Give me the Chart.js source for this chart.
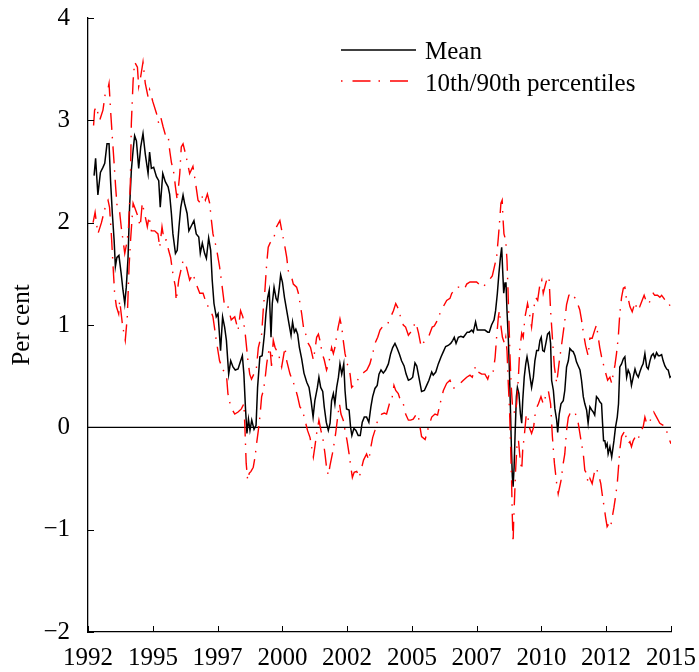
<!DOCTYPE html>
<html>
<head>
<meta charset="utf-8">
<title>Mean and 10th/90th percentiles</title>
<script src="https://cdn.jsdelivr.net/npm/chart.js@4.4.0/dist/chart.umd.min.js"></script>
<style>
  html, body { margin: 0; padding: 0; background: #fff; }
  #wrap { width: 699px; height: 672px; }
</style>
</head>
<body>
<div id="wrap"><canvas id="chart" width="699" height="672"></canvas></div>
<script>
'use strict';

// ---- Data (decimal years, per cent) ----
const meanYears = [
  1992.24, 1992.30, 1992.39, 1992.49, 1992.59, 1992.66, 1992.75, 1992.83, 1992.89, 1992.96,
  1993.03, 1993.08, 1993.14, 1993.22, 1993.31, 1993.38, 1993.45, 1993.51, 1993.58, 1993.64,
  1993.71, 1993.78, 1993.84, 1993.91, 1994.00, 1994.08, 1994.17, 1994.26, 1994.37, 1994.43,
  1994.50, 1994.59, 1994.70, 1994.79, 1994.85, 1994.95, 1995.05, 1995.16, 1995.22, 1995.29,
  1995.35, 1995.45, 1995.52, 1995.59, 1995.66, 1995.75, 1995.81, 1995.91, 1995.98, 1996.08,
  1996.18, 1996.27, 1996.37, 1996.43, 1996.51, 1996.60, 1996.67, 1996.76, 1996.84, 1996.90,
  1996.97, 1997.06, 1997.13, 1997.23, 1997.31, 1997.39, 1997.46, 1997.55, 1997.63, 1997.72,
  1997.81, 1997.92, 1998.01, 1998.09, 1998.15, 1998.21, 1998.27, 1998.33, 1998.39, 1998.46,
  1998.55, 1998.63, 1998.69, 1998.78, 1998.87, 1998.96, 1999.02, 1999.09, 1999.15, 1999.22,
  1999.27, 1999.34, 1999.42, 1999.48, 1999.55, 1999.60, 1999.67, 1999.75, 1999.84, 1999.93,
  2000.01, 2000.07, 2000.14, 2000.20, 2000.27, 2000.34, 2000.43, 2000.52, 2000.63, 2000.72,
  2000.80, 2000.88, 2000.95, 2001.05, 2001.11, 2001.18, 2001.26, 2001.32, 2001.40, 2001.48,
  2001.55, 2001.61, 2001.68, 2001.74, 2001.81, 2001.88, 2001.94, 2002.01, 2002.09, 2002.14,
  2002.20, 2002.30, 2002.36, 2002.41, 2002.49, 2002.57, 2002.66, 2002.74, 2002.82, 2002.90,
  2002.99, 2003.08, 2003.16, 2003.23, 2003.32, 2003.41, 2003.48, 2003.56, 2003.65, 2003.74,
  2003.85, 2003.94, 2004.02, 2004.11, 2004.20, 2004.28, 2004.37, 2004.47, 2004.55, 2004.64,
  2004.73, 2004.81, 2004.90, 2004.97, 2005.10, 2005.16, 2005.27, 2005.36, 2005.45, 2005.56,
  2005.62, 2005.72, 2005.82, 2005.93, 2006.02, 2006.11, 2006.21, 2006.31, 2006.39, 2006.45,
  2006.52, 2006.61, 2006.71, 2006.81, 2006.87, 2006.96, 2007.04, 2007.14, 2007.20, 2007.29,
  2007.36, 2007.46, 2007.57, 2007.66, 2007.77, 2007.83, 2007.92, 2008.02, 2008.08, 2008.15,
  2008.21, 2008.27, 2008.32, 2008.36, 2008.40, 2008.45, 2008.49, 2008.53, 2008.58, 2008.62,
  2008.66, 2008.70, 2008.74, 2008.77, 2008.81, 2008.85, 2008.90, 2008.94, 2009.00, 2009.06,
  2009.11, 2009.15, 2009.21, 2009.27, 2009.32, 2009.37, 2009.44, 2009.50, 2009.57, 2009.63,
  2009.70, 2009.77, 2009.83, 2009.88, 2009.94, 2010.00, 2010.07, 2010.13, 2010.20, 2010.25,
  2010.29, 2010.36, 2010.42, 2010.49, 2010.53, 2010.59, 2010.66, 2010.75, 2010.81, 2010.88,
  2010.95, 2011.01, 2011.08, 2011.14, 2011.21, 2011.27, 2011.34, 2011.41, 2011.47, 2011.54,
  2011.60, 2011.67, 2011.73, 2011.80, 2011.87, 2011.93, 2011.99, 2012.06, 2012.13, 2012.19,
  2012.26, 2012.30, 2012.34, 2012.39, 2012.43, 2012.48, 2012.52, 2012.59, 2012.66, 2012.70,
  2012.75, 2012.81, 2012.88, 2012.93, 2012.98, 2013.05, 2013.12, 2013.18, 2013.25, 2013.31,
  2013.38, 2013.44, 2013.51, 2013.58, 2013.64, 2013.71, 2013.77, 2013.84, 2013.90, 2013.97,
  2014.04, 2014.10, 2014.17, 2014.23, 2014.30, 2014.36, 2014.43, 2014.50, 2014.56, 2014.63,
  2014.69, 2014.76, 2014.83, 2014.89, 2014.96, 2015.00
];
const meanValues = [
  2.46, 2.63, 2.27, 2.49, 2.54, 2.58, 2.77, 2.77, 2.41, 2.09,
  1.83, 1.57, 1.66, 1.68, 1.50, 1.34, 1.21, 1.37, 1.66, 2.15,
  2.51, 2.71, 2.85, 2.80, 2.53, 2.74, 2.87, 2.67, 2.48, 2.69,
  2.53, 2.54, 2.45, 2.41, 2.15, 2.48, 2.40, 2.35, 2.28, 2.09,
  1.89, 1.70, 1.73, 1.96, 2.15, 2.27, 2.19, 2.09, 1.92, 1.97,
  2.02, 1.89, 1.86, 1.70, 1.80, 1.70, 1.65, 1.85, 1.73, 1.44,
  1.21, 1.08, 1.11, 0.75, 1.08, 0.98, 0.85, 0.52, 0.65, 0.59,
  0.56, 0.57, 0.64, 0.70, 0.52, 0.20, -0.06, 0.08, -0.03, 0.07,
  -0.02, 0.02, 0.39, 0.69, 0.70, 0.91, 1.11, 1.27, 1.34, 0.88,
  1.21, 1.37, 1.26, 1.23, 1.37, 1.49, 1.42, 1.27, 1.14, 1.01,
  0.90, 1.03, 0.93, 0.96, 0.91, 0.78, 0.67, 0.53, 0.44, 0.39,
  0.26, 0.10, 0.26, 0.39, 0.49, 0.39, 0.35, 0.20, 0.05, -0.03,
  0.04, 0.26, 0.33, 0.23, 0.39, 0.49, 0.62, 0.52, 0.62, 0.36,
  0.18, 0.17, 0.00, -0.08, -0.01, -0.03, -0.08, -0.08, 0.05, 0.10,
  0.10, 0.05, 0.20, 0.30, 0.38, 0.41, 0.52, 0.56, 0.53, 0.56,
  0.62, 0.72, 0.78, 0.82, 0.77, 0.72, 0.65, 0.60, 0.52, 0.46,
  0.47, 0.49, 0.63, 0.60, 0.43, 0.35, 0.36, 0.41, 0.46, 0.54,
  0.51, 0.54, 0.62, 0.69, 0.74, 0.79, 0.80, 0.82, 0.85, 0.88,
  0.82, 0.88, 0.89, 0.88, 0.90, 0.93, 0.93, 0.95, 0.93, 1.03,
  0.95, 0.95, 0.95, 0.95, 0.93, 0.93, 1.00, 1.05, 1.14, 1.31,
  1.50, 1.66, 1.76, 1.53, 1.31, 1.41, 1.41, 1.14, 0.88, 0.59,
  0.23, -0.16, -0.48, -0.58, -0.39, -0.06, 0.30, 0.39, 0.33, 0.13,
  0.04, 0.26, 0.49, 0.62, 0.69, 0.62, 0.49, 0.39, 0.49, 0.65,
  0.75, 0.75, 0.85, 0.88, 0.75, 0.74, 0.83, 0.91, 0.93, 0.82,
  0.46, 0.36, 0.18, 0.07, -0.05, 0.13, 0.23, 0.26, 0.36, 0.59,
  0.65, 0.77, 0.75, 0.74, 0.70, 0.64, 0.60, 0.56, 0.46, 0.30,
  0.23, 0.17, 0.04, 0.20, 0.17, 0.15, 0.12, 0.30, 0.28, 0.25,
  0.23, 0.04, -0.13, -0.13, -0.19, -0.16, -0.26, -0.19, -0.29, -0.22,
  -0.13, 0.00, 0.10, 0.23, 0.59, 0.62, 0.67, 0.69, 0.49, 0.56,
  0.52, 0.41, 0.49, 0.57, 0.52, 0.49, 0.54, 0.59, 0.62, 0.72,
  0.59, 0.57, 0.65, 0.70, 0.72, 0.68, 0.73, 0.70, 0.70, 0.71,
  0.65, 0.60, 0.57, 0.56, 0.49, 0.50
];

const p90Years = [
  1992.22, 1992.26, 1992.33, 1992.46, 1992.59, 1992.68, 1992.78, 1992.83, 1992.89, 1992.95,
  1993.03, 1993.09, 1993.16, 1993.25, 1993.31, 1993.38, 1993.45, 1993.55, 1993.60, 1993.67,
  1993.71, 1993.78, 1993.84, 1993.95, 1994.00, 1994.08, 1994.17, 1994.26, 1994.37, 1994.43,
  1994.56, 1994.70, 1994.79, 1994.87, 1994.96, 1995.05, 1995.16, 1995.22, 1995.29, 1995.39,
  1995.45, 1995.52, 1995.62, 1995.68, 1995.75, 1995.88, 1996.01, 1996.14, 1996.23, 1996.34,
  1996.44, 1996.54, 1996.63, 1996.71, 1996.80, 1996.87, 1996.93, 1997.06, 1997.19, 1997.26,
  1997.39, 1997.52, 1997.65, 1997.79, 1997.92, 1998.02, 1998.11, 1998.20, 1998.31, 1998.38,
  1998.45, 1998.56, 1998.64, 1998.72, 1998.85, 1998.92, 1998.98, 1999.05, 1999.11, 1999.18,
  1999.27, 1999.34, 1999.44, 1999.57, 1999.67, 1999.77, 1999.84, 1999.90, 2000.03, 2000.10,
  2000.23, 2000.30, 2000.43, 2000.50, 2000.63, 2000.69, 2000.78, 2000.89, 2000.95, 2001.02,
  2001.09, 2001.15, 2001.24, 2001.32, 2001.41, 2001.50, 2001.61, 2001.68, 2001.74, 2001.82,
  2001.87, 2001.94, 2002.01, 2002.07, 2002.14, 2002.25, 2002.34, 2002.40, 2002.51, 2002.60,
  2002.69, 2002.80, 2002.90, 2003.00, 2003.12, 2003.23, 2003.32, 2003.43, 2003.52, 2003.61,
  2003.72, 2003.82, 2003.91, 2004.05, 2004.14, 2004.24, 2004.32, 2004.44, 2004.53, 2004.64,
  2004.73, 2004.83, 2004.93, 2005.04, 2005.14, 2005.24, 2005.43, 2005.58, 2005.66, 2005.75,
  2005.93, 2006.15, 2006.28, 2006.35, 2006.48, 2006.61, 2006.74, 2006.85, 2006.94, 2007.07,
  2007.20, 2007.33, 2007.46, 2007.60, 2007.73, 2007.86, 2007.95, 2008.06, 2008.12, 2008.19,
  2008.25, 2008.29, 2008.34, 2008.37, 2008.41, 2008.48, 2008.53, 2008.57, 2008.61, 2008.65,
  2008.69, 2008.74, 2008.78, 2008.85, 2008.91, 2008.98, 2009.03, 2009.11, 2009.17, 2009.24,
  2009.34, 2009.44, 2009.50, 2009.57, 2009.66, 2009.74, 2009.83, 2009.90, 2009.96, 2010.05,
  2010.13, 2010.19, 2010.25, 2010.32, 2010.40, 2010.49, 2010.58, 2010.68, 2010.81, 2010.88,
  2010.97, 2011.05, 2011.14, 2011.24, 2011.40, 2011.47, 2011.54, 2011.63, 2011.73, 2011.80,
  2011.89, 2011.99, 2012.06, 2012.13, 2012.19, 2012.26, 2012.33, 2012.39, 2012.50, 2012.59,
  2012.66, 2012.72, 2012.79, 2012.85, 2012.92, 2012.98, 2013.05, 2013.12, 2013.18, 2013.25,
  2013.31, 2013.38, 2013.47, 2013.58, 2013.68, 2013.77, 2013.86, 2013.94, 2014.04, 2014.13,
  2014.23, 2014.30, 2014.36, 2014.47, 2014.56, 2014.63, 2014.72, 2014.83, 2014.92, 2015.00
];
const p90Values = [
  2.95, 3.10, 3.13, 3.00, 3.10, 3.26, 3.30, 3.36, 3.10, 2.87,
  2.58, 2.35, 2.12, 2.10, 1.96, 1.83, 1.70, 1.83, 1.96, 2.38,
  2.97, 3.39, 3.57, 3.52, 3.33, 3.43, 3.57, 3.36, 3.23, 3.30,
  3.18, 3.07, 2.97, 3.03, 2.94, 2.86, 2.86, 2.71, 2.59, 2.48,
  2.35, 2.22, 2.48, 2.74, 2.77, 2.64, 2.48, 2.55, 2.41, 2.22,
  2.19, 2.28, 2.22, 2.28, 2.19, 2.02, 1.89, 1.76, 1.57, 1.44,
  1.18, 1.18, 1.05, 1.08, 0.95, 1.14, 1.08, 0.92, 0.65, 0.52,
  0.47, 0.53, 0.57, 0.78, 0.91, 1.17, 1.34, 1.60, 1.76, 1.80,
  1.83, 1.86, 1.96, 2.02, 1.89, 1.76, 1.66, 1.53, 1.47, 1.40,
  1.37, 1.31, 1.11, 0.98, 0.88, 0.82, 0.78, 0.66, 0.75, 0.88,
  0.91, 0.85, 0.72, 0.66, 0.56, 0.63, 0.78, 0.72, 0.78, 0.91,
  0.98, 1.06, 0.98, 0.85, 0.72, 0.60, 0.52, 0.39, 0.42, 0.44,
  0.49, 0.52, 0.54, 0.56, 0.62, 0.72, 0.82, 0.88, 0.95, 0.98,
  1.00, 1.01, 1.06, 1.14, 1.21, 1.16, 1.09, 1.00, 0.98, 0.90,
  0.93, 0.98, 1.03, 0.92, 0.79, 0.83, 0.88, 0.98, 0.99, 1.03,
  1.14, 1.24, 1.26, 1.31, 1.34, 1.37, 1.37, 1.35, 1.40, 1.42,
  1.42, 1.42, 1.39, 1.37, 1.42, 1.45, 1.48, 1.60, 1.66, 1.86,
  2.05, 2.19, 2.22, 2.05, 1.89, 1.83, 1.63, 1.34, 1.01, 0.69,
  0.43, 0.23, 0.17, 0.13, 0.23, 0.49, 0.75, 0.92, 0.88, 1.08,
  1.21, 1.08, 0.98, 1.14, 1.27, 1.24, 1.40, 1.44, 1.31, 1.40,
  1.47, 1.45, 1.14, 0.88, 0.59, 0.43, 0.62, 0.80, 1.04, 1.20,
  1.29, 1.31, 1.28, 1.26, 1.15, 1.05, 0.93, 0.80, 0.70, 0.87,
  0.87, 0.95, 1.00, 0.88, 0.78, 0.69, 0.62, 0.56, 0.46, 0.49,
  0.43, 0.52, 0.61, 0.72, 0.88, 1.11, 1.27, 1.36, 1.37, 1.24,
  1.26, 1.18, 1.13, 1.22, 1.14, 1.18, 1.24, 1.29, 1.22, 1.21,
  1.27, 1.31, 1.29, 1.29, 1.27, 1.29, 1.26, 1.22, 1.21, 1.16
];

const p10Years = [
  1992.20, 1992.28, 1992.39, 1992.53, 1992.72, 1992.79, 1992.85, 1992.92, 1992.99, 1993.05,
  1993.12, 1993.21, 1993.25, 1993.31, 1993.37, 1993.42, 1993.47, 1993.55, 1993.62, 1993.68,
  1993.78, 1993.84, 1993.97, 1994.06, 1994.14, 1994.24, 1994.34, 1994.41, 1994.50, 1994.63,
  1994.76, 1994.83, 1994.92, 1995.00, 1995.09, 1995.18, 1995.26, 1995.35, 1995.45, 1995.48,
  1995.58, 1995.66, 1995.75, 1995.88, 1996.01, 1996.14, 1996.27, 1996.41, 1996.54, 1996.67,
  1996.84, 1996.93, 1997.06, 1997.19, 1997.33, 1997.46, 1997.52, 1997.63, 1997.79, 1997.92,
  1998.05, 1998.15, 1998.19, 1998.24, 1998.30, 1998.36, 1998.43, 1998.52, 1998.59, 1998.65,
  1998.72, 1998.78, 1998.85, 1998.92, 1998.98, 1999.05, 1999.11, 1999.18, 1999.24, 1999.31,
  1999.38, 1999.44, 1999.51, 1999.64, 1999.77, 1999.84, 1999.97, 2000.07, 2000.17, 2000.27,
  2000.36, 2000.46, 2000.56, 2000.66, 2000.76, 2000.82, 2000.89, 2000.95, 2001.02, 2001.11,
  2001.19, 2001.28, 2001.35, 2001.41, 2001.48, 2001.55, 2001.64, 2001.69, 2001.77, 2001.85,
  2001.92, 2001.98, 2002.07, 2002.14, 2002.22, 2002.30, 2002.37, 2002.43, 2002.50, 2002.60,
  2002.70, 2002.80, 2002.87, 2002.99, 2003.08, 2003.16, 2003.23, 2003.32, 2003.43, 2003.49,
  2003.59, 2003.69, 2003.78, 2003.89, 2003.98, 2004.07, 2004.14, 2004.24, 2004.33, 2004.44,
  2004.53, 2004.64, 2004.73, 2004.83, 2004.93, 2005.02, 2005.10, 2005.16, 2005.30, 2005.43,
  2005.56, 2005.69, 2005.79, 2005.89, 2006.02, 2006.15, 2006.28, 2006.41, 2006.55, 2006.68,
  2006.81, 2006.94, 2007.07, 2007.16, 2007.29, 2007.40, 2007.53, 2007.66, 2007.77, 2007.86,
  2007.99, 2008.06, 2008.12, 2008.19, 2008.23, 2008.28, 2008.35, 2008.43, 2008.48, 2008.53,
  2008.58, 2008.63, 2008.67, 2008.71, 2008.74, 2008.77, 2008.79, 2008.83, 2008.87, 2008.92,
  2008.98, 2009.04, 2009.11, 2009.15, 2009.21, 2009.28, 2009.34, 2009.41, 2009.50, 2009.58,
  2009.66, 2009.77, 2009.87, 2009.96, 2010.05, 2010.16, 2010.25, 2010.32, 2010.40, 2010.49,
  2010.55, 2010.66, 2010.75, 2010.81, 2010.88, 2010.95, 2011.01, 2011.11, 2011.21, 2011.27,
  2011.34, 2011.45, 2011.54, 2011.60, 2011.67, 2011.73, 2011.80, 2011.89, 2011.97, 2012.06,
  2012.16, 2012.23, 2012.30, 2012.37, 2012.42, 2012.48, 2012.55, 2012.62, 2012.68, 2012.75,
  2012.81, 2012.88, 2012.92, 2012.98, 2013.05, 2013.12, 2013.18, 2013.25, 2013.31, 2013.38,
  2013.44, 2013.51, 2013.62, 2013.71, 2013.81, 2013.90, 2013.97, 2014.04, 2014.14, 2014.23,
  2014.32, 2014.43, 2014.56, 2014.69, 2014.80, 2014.89, 2015.00
];
const p10Values = [
  2.00, 2.10, 1.89, 2.00, 2.19, 2.22, 2.15, 1.89, 1.57, 1.31,
  1.18, 1.11, 1.24, 1.11, 0.98, 0.92, 0.85, 1.08, 1.57, 1.83,
  2.19, 2.15, 2.06, 1.96, 2.19, 2.08, 1.96, 2.06, 1.92, 1.92,
  1.89, 1.76, 1.96, 1.83, 1.83, 1.73, 1.66, 1.50, 1.37, 1.24,
  1.44, 1.53, 1.63, 1.57, 1.44, 1.50, 1.40, 1.31, 1.31, 1.21,
  1.14, 1.08, 0.85, 0.65, 0.56, 0.52, 0.33, 0.20, 0.13, 0.15,
  0.18, 0.23, 0.00, -0.35, -0.52, -0.45, -0.43, -0.39, -0.29, -0.16,
  -0.03, 0.10, 0.30, 0.36, 0.46, 0.62, 0.72, 0.78, 0.60, 0.85,
  0.78, 0.75, 0.72, 0.59, 0.78, 0.65, 0.52, 0.46, 0.39, 0.30,
  0.20, 0.17, 0.07, -0.03, -0.10, -0.19, -0.29, -0.19, -0.06, 0.07,
  -0.03, -0.13, -0.26, -0.39, -0.47, -0.37, -0.26, -0.19, -0.06, 0.10,
  0.23, 0.13, 0.07, -0.03, -0.13, -0.26, -0.39, -0.49, -0.44, -0.43,
  -0.49, -0.39, -0.32, -0.26, -0.32, -0.19, -0.10, -0.03, 0.07, 0.10,
  0.13, 0.14, 0.13, 0.23, 0.26, 0.41, 0.36, 0.33, 0.26, 0.23,
  0.13, 0.07, 0.07, 0.08, 0.12, 0.13, 0.00, -0.09, -0.12, 0.00,
  0.10, 0.13, 0.12, 0.23, 0.36, 0.43, 0.46, 0.38, 0.40, 0.43,
  0.46, 0.49, 0.51, 0.49, 0.60, 0.54, 0.52, 0.52, 0.47, 0.55,
  0.55, 0.68, 0.88, 1.08, 1.14, 1.01, 0.88, 0.82, 0.88, 0.75,
  0.43, 0.17, -0.16, -0.52, -0.87, -1.13, -0.94, -0.68, -0.42, -0.19,
  -0.12, -0.29, -0.42, -0.22, -0.09, 0.10, 0.13, 0.00, -0.06, 0.00,
  0.17, 0.23, 0.30, 0.23, 0.30, 0.36, 0.23, -0.09, -0.35, -0.55,
  -0.65, -0.52, -0.35, -0.26, -0.03, 0.10, 0.13, 0.13, 0.15, 0.10,
  0.04, -0.13, -0.26, -0.42, -0.45, -0.55, -0.50, -0.55, -0.45, -0.40,
  -0.48, -0.55, -0.68, -0.79, -0.88, -0.97, -0.94, -0.97, -0.88, -0.78,
  -0.68, -0.55, -0.42, -0.22, -0.09, -0.06, -0.03, -0.13, -0.16, -0.14,
  -0.19, -0.13, -0.08, -0.11, -0.03, 0.00, 0.10, 0.04, 0.04, 0.10,
  0.15, 0.10, 0.04, 0.02, -0.01, -0.09, -0.16
];

// ---- Axis ticks ----
const xTickYears  = [1992, 1994.56, 1997.11, 1999.67, 2002.22, 2004.78, 2007.33, 2009.89, 2012.44, 2015];
const xTickLabels = ['1992', '1995', '1997', '2000', '2002', '2005', '2007', '2010', '2012', '2015'];
const yTickValues = [-2, -1, 0, 1, 2, 3, 4];
const yTickLabels = ['\u22122', '\u22121', '0', '1', '2', '3', '4'];

const FONT = '"Liberation Serif", "Times New Roman", serif';
const RED = '#ff0000';
const DASH_DOT = [17, 7, 1.5, 8];

function toPoints(xs, ys) {
  return xs.map((x, i) => ({ x, y: ys[i] }));
}

// ---- Zero line, inward tick marks, legend ----
const decor = {
  id: 'decor',
  beforeDatasetsDraw(chart) {
    const { ctx, chartArea: a, scales: { y } } = chart;
    const y0 = y.getPixelForValue(0);
    ctx.save();
    ctx.strokeStyle = '#000';
    ctx.lineWidth = 1.3;
    ctx.beginPath();
    ctx.moveTo(a.left, y0);
    ctx.lineTo(a.right, y0);
    ctx.stroke();
    ctx.restore();
  },
  afterDraw(chart) {
    const { ctx, chartArea: a, scales: { x, y } } = chart;
    ctx.save();
    ctx.strokeStyle = '#000';
    ctx.lineWidth = 1;
    ctx.beginPath();
    xTickYears.forEach(v => {
      const px = Math.round(x.getPixelForValue(v)) + 0.5;
      ctx.moveTo(px, a.bottom);
      ctx.lineTo(px, a.bottom - 6);
    });
    yTickValues.forEach(v => {
      const py = Math.round(y.getPixelForValue(v)) + 0.5;
      ctx.moveTo(a.left, py);
      ctx.lineTo(a.left + 6, py);
    });
    ctx.stroke();

    // legend
    ctx.font = '25px ' + FONT;
    ctx.fillStyle = '#000';
    ctx.textBaseline = 'alphabetic';
    ctx.lineWidth = 1.4;
    ctx.beginPath();
    ctx.moveTo(341, 50);
    ctx.lineTo(416, 50);
    ctx.stroke();
    ctx.fillText('Mean', 425, 59);

    ctx.strokeStyle = RED;
    ctx.setLineDash([1.5, 10, 18, 8]);
    ctx.beginPath();
    ctx.moveTo(341, 81);
    ctx.lineTo(408, 81);
    ctx.stroke();
    ctx.setLineDash([]);
    ctx.fillText('10th/90th percentiles', 425, 91);
    ctx.restore();
  }
};

const lineBase = { pointRadius: 0, borderWidth: 1.4, tension: 0, fill: false };

new Chart(document.getElementById('chart'), {
  type: 'line',
  data: {
    datasets: [
      { ...lineBase, label: '90th percentile', data: toPoints(p90Years, p90Values), borderColor: RED, borderDash: DASH_DOT },
      { ...lineBase, label: '10th percentile', data: toPoints(p10Years, p10Values), borderColor: RED, borderDash: DASH_DOT },
      { ...lineBase, label: 'Mean', data: toPoints(meanYears, meanValues), borderColor: '#000', borderWidth: 1.5 },
    ],
  },
  options: {
    responsive: false,
    animation: false,
    devicePixelRatio: 1,
    layout: { padding: { left: 0, top: 18, right: 28, bottom: 0 } },
    plugins: { legend: { display: false }, tooltip: { enabled: false } },
    scales: {
      x: {
        type: 'linear',
        min: 1992,
        max: 2015,
        afterBuildTicks: (s) => { s.ticks = xTickYears.map(v => ({ value: v })); },
        afterFit: (s) => { s.height = 40; },
        grid: { display: false },
        border: { display: true, color: '#000', width: 1.3 },
        ticks: {
          autoSkip: false, maxRotation: 0, padding: 3, color: '#000',
          font: { family: FONT, size: 25 },
          callback: (v, i) => xTickLabels[i],
        },
      },
      y: {
        type: 'linear',
        min: -2,
        max: 4,
        afterBuildTicks: (s) => { s.ticks = yTickValues.map(v => ({ value: v })); },
        afterFit: (s) => { s.width = 88; s.paddingTop = 0; s.paddingBottom = 0; },
        grid: { display: false },
        border: { display: true, color: '#000', width: 1.3 },
        ticks: {
          padding: 10, color: '#000',
          font: { family: FONT, size: 25 },
          callback: (v, i) => yTickLabels[i],
        },
        title: {
          display: true, text: 'Per cent', color: '#000',
          font: { family: FONT, size: 25 },
          padding: { top: 7, bottom: 0 },
        },
      },
    },
  },
  plugins: [decor],
});
</script>
</body>
</html>
